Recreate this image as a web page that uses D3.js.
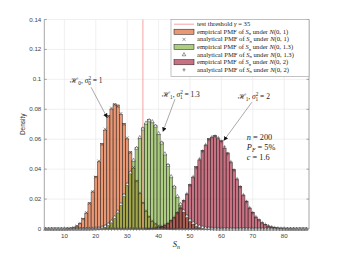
<!DOCTYPE html>
<html><head><meta charset="utf-8">
<script src="https://cdn.jsdelivr.net/npm/d3@7"></script>
<style>body{margin:0;background:#fff}svg{display:block}</style>
</head><body><svg id="c" width="342" height="257"></svg>
<script>
// ---- data ----
const xTicks = [10, 20, 30, 40, 50, 60, 70, 80];
const yTicks = [0, 0.02, 0.04, 0.06, 0.08, 0.1, 0.12, 0.14];
const yTickLabels = ["0", "0.02", "0.04", "0.06", "0.08", "0.1", "0.12", "0.14"];
const threshold = 35;

// analytical PMFs, support starts at S_n = 4 (one value per integer up to 87)
const pmfStart = 4;
const analyticalH0 = [0,0,0,0,0,0.00002,0.00007,0.00018,0.00044,0.00098,0.00199,0.00378,0.00667,0.0110,0.0171,0.0251,0.0347,0.0454,0.0565,0.0667,0.0752,0.0808,0.0831,0.0818,0.0772,0.0699,0.0609,0.0510,0.0411,0.0320,0.0240,0.0174,0.0122,0.00825,0.0054,0.00343,0.00211,0.00126,0.00073,0.00041,0.00022,0.00011,0.00005,0.00002,
 0,0,0,0,0,0,0,0,0,0,0,0,0,0,0,0,0,0,0,0,0,0,0,0,0,0,0,0,0,0,0,0,0,0,0,0,0,0,0,0];
const analyticalH1a = [0,0,0,0,0,0,0,0,0,0,0,0,0,0.00002,0.00006,0.00013,0.00027,0.00054,0.00102,0.00182,0.00309,0.0050,0.0078,0.0116,0.0166,0.0227,0.0298,0.0377,0.0460,0.0540,0.0612,0.0670,0.0709,0.0725,0.0718,0.0688,0.0639,0.0576,0.0503,0.0426,0.0351,0.0281,0.0218,0.0165,0.0121,0.00869,0.00606,0.00411,0.00272,0.00175,0.0011,0.00067,0.0004,0.00023,0.00013,0.00007,0.00004,0.00002,
 0,0,0,0,0,0,0,0,0,0,0,0,0,0,0,0,0,0,0,0,0,0,0,0,0,0];
const analyticalH1b = [0,0,0,0,0,0,0,0,0,0,0,0,0,0,0,0,0,0,0,0,0,0,0,0,0,0,0,0,0,0,
 0.00003,0.00006,0.00011,0.0002,0.00036,0.00062,0.00102,0.00162,0.00251,0.00377,0.00549,0.00778,0.0107,0.0143,0.0187,0.0237,0.0292,0.0350,0.0410,0.0468,0.0520,0.0564,0.0597,0.0616,0.0620,0.0610,0.0585,0.0549,0.0503,0.0450,0.0393,0.0336,0.0281,0.0229,0.0183,0.0143,0.0109,0.00817,0.00598,0.00428,0.0030,0.00206,0.00138,0.00091,0.00059,0.00037,0.00023,0.00014,0.00008,0.00005,0.00003,0.00002,0.00001,0];

// empirical PMFs (histograms)
const empiricalH0Start = 11;
const empiricalH0 = [0.0002,0.0005,0.0009,0.0021,0.0037,0.0069,0.0107,0.0175,0.0248,0.0352,0.0449,0.0571,0.0661,0.0758,0.0802,0.0836,0.0829,0.0765,0.0705,0.0602,0.0516,0.0405,0.0324,0.0236,0.0177,0.0119,0.0085,0.0052,0.0035,0.0020,0.0013,0.0007,0.0004,0.0002,0.0001];
const empiricalH1aStart = 19;
const empiricalH1a = [0.0001,0.0003,0.0006,0.0010,0.0019,0.0030,0.0052,0.0076,0.0119,0.0163,0.0231,0.0294,0.0381,0.0456,0.0545,0.0607,0.0676,0.0703,0.0731,0.0712,0.0694,0.0633,0.0581,0.0498,0.0431,0.0347,0.0285,0.0214,0.0168,0.0118,0.0088,0.0059,0.0042,0.0027,0.0018,0.0011,0.0007,0.0004,0.0002,0.0001,0.0001];
const empiricalH1bStart = 36;
const empiricalH1b = [0.0001,0.0002,0.0004,0.0006,0.0011,0.0015,0.0026,0.0036,0.0057,0.0075,0.0110,0.0139,0.0192,0.0232,0.0298,0.0344,0.0417,0.0462,0.0526,0.0558,0.0604,0.0611,0.0626,0.0603,0.0590,0.0541,0.0509,0.0444,0.0398,0.0330,0.0286,0.0224,0.0187,0.0139,0.0112,0.0079,0.0062,0.0041,0.0031,0.0020,0.0014,0.0009,0.0006,0.0004,0.0002,0.0001,0.0001,0.00005];

const seriesColors = ["#D95319", "#77AC30", "#A2142F"];

// ---- layout ----
const svg = d3.select("#c");
const M = {l: 44.3, r: 309, t: 19.5, b: 229};
const x = d3.scaleLinear().domain([3.6, 87.9]).range([M.l, M.r]);
const y = d3.scaleLinear().domain([0, 0.14]).range([M.b, M.t]);
const SERIF = "'Liberation Serif','DejaVu Serif',serif";
const SANS = "'Liberation Sans',Arial,sans-serif";

// grid
const g = svg.append("g");
g.selectAll(".gx").data(xTicks).join("line")
  .attr("x1", d => x(d)).attr("x2", d => x(d)).attr("y1", M.t).attr("y2", M.b)
  .attr("stroke", "#e6e6e6").attr("stroke-width", 0.6);
g.selectAll(".gy").data(yTicks.slice(1)).join("line")
  .attr("x1", M.l).attr("x2", M.r).attr("y1", d => y(d)).attr("y2", d => y(d))
  .attr("stroke", "#e6e6e6").attr("stroke-width", 0.6);

// histograms
function bars(start, vals, color) {
  const data = vals.map((v, i) => ({k: start + i, v}));
  svg.append("g").selectAll("rect").data(data).join("rect")
    .attr("x", d => x(d.k - 0.5)).attr("width", d => x(d.k + 0.5) - x(d.k - 0.5))
    .attr("y", d => y(d.v)).attr("height", d => y(0) - y(d.v))
    .attr("fill", color).attr("fill-opacity", 0.6)
    .attr("stroke", "#1a1a1a").attr("stroke-width", 0.5).attr("stroke-opacity", 0.85);
}
bars(empiricalH0Start, empiricalH0, seriesColors[0]);
bars(empiricalH1aStart, empiricalH1a, seriesColors[1]);
bars(empiricalH1bStart, empiricalH1b, seriesColors[2]);

// threshold line
svg.append("line").attr("x1", x(threshold)).attr("x2", x(threshold))
  .attr("y1", y(0)).attr("y2", y(0.14)).attr("stroke", "#f08a8a").attr("stroke-width", 0.8);

// markers
function markerPath(type, cx, cy) {
  const s = 1.5;
  if (type === "x") return `M${cx-s},${cy-s}L${cx+s},${cy+s}M${cx-s},${cy+s}L${cx+s},${cy-s}`;
  if (type === "+") return `M${cx-s},${cy}L${cx+s},${cy}M${cx},${cy-s-0.3}L${cx},${cy+s+0.3}`;
  if (type === "tri") return `M${cx},${cy-2}L${cx+1.8},${cy+1.2}L${cx-1.8},${cy+1.2}Z`;
}
const markerTypes = ["x", "tri", "+"];
function markers(vals, type) {
  const data = vals.map((v, i) => ({k: pmfStart + i, v}));
  svg.append("g").selectAll("path").data(data).join("path")
    .attr("d", d => markerPath(type, x(d.k), y(d.v)))
    .attr("fill", type === "tri" ? "#fff" : "none")
    .attr("stroke", "#333").attr("stroke-width", 0.5);
}
markers(analyticalH0, "x");
markers(analyticalH1a, "tri");
markers(analyticalH1b, "+");

// axes frame
const ax = svg.append("g").attr("stroke", "#808080").attr("stroke-width", 0.7);
ax.append("line").attr("x1", M.l).attr("x2", M.l).attr("y1", M.t).attr("y2", M.b);
ax.append("line").attr("x1", M.r).attr("x2", M.r).attr("y1", M.t).attr("y2", M.b);
ax.append("line").attr("x1", M.l).attr("x2", M.r).attr("y1", M.b).attr("y2", M.b);
xTicks.forEach(t => {
  ax.append("line").attr("x1", x(t)).attr("x2", x(t)).attr("y1", M.b).attr("y2", M.b - 2.5);
});
yTicks.forEach(t => {
  ax.append("line").attr("x1", M.l).attr("x2", M.l + 2.5).attr("y1", y(t)).attr("y2", y(t));
  ax.append("line").attr("x1", M.r).attr("x2", M.r - 2.5).attr("y1", y(t)).attr("y2", y(t));
});
svg.append("g").selectAll("text").data(xTicks).join("text")
  .attr("x", d => x(d)).attr("y", M.b + 9).attr("text-anchor", "middle")
  .attr("font-family", SANS).attr("font-size", 6.2).attr("fill", "#444").text(d => d);
svg.append("g").selectAll("text").data(yTicks).join("text")
  .attr("x", M.l - 3).attr("y", d => y(d) + 2).attr("text-anchor", "end")
  .attr("font-family", SANS).attr("font-size", 6.2).attr("fill", "#444").text((d, i) => yTickLabels[i]);
svg.append("text").attr("transform", `translate(25,${(M.t + M.b) / 2}) rotate(-90)`)
  .attr("text-anchor", "middle").attr("font-family", SANS).attr("font-size", 6.5)
  .attr("fill", "#333").text("Density");

// rich text helper
function rich(sel, parts, fs) {
  parts.forEach(p => {
    const ts = sel.append("tspan").text(p.t);
    if (p.it) ts.attr("font-style", "italic");
    if (p.sub) ts.attr("font-size", fs * 0.7).attr("dy", fs * 0.25);
    if (p.sup) ts.attr("font-size", fs * 0.7).attr("dy", -fs * 0.4);
    if (p.dy) ts.attr("dy", p.dy);
    if (p.dx) ts.attr("dx", p.dx);
  });
}
// x label
const xl = svg.append("text").attr("x", (M.l + M.r) / 2 - 4).attr("y", 247)
  .attr("font-family", SERIF).attr("font-size", 8.5).attr("fill", "#222");
rich(xl, [{t: "S", it: true}, {t: "n", it: true, sub: true}], 8.5);

// legend
const L = {x: 171, y: 19.5, w: 138, h: 57};
svg.append("rect").attr("x", L.x).attr("y", L.y).attr("width", L.w).attr("height", L.h)
  .attr("fill", "#fff").attr("stroke", "#999").attr("stroke-width", 0.6);
const legRows = [
  {kind: "line", label: [{t: "test threshold "}, {t: "γ", it: true}, {t: " = 35"}]},
  {kind: "patch", c: 0, label: "1"},
  {kind: "mark", c: 0, label: "1"},
  {kind: "patch", c: 1, label: "1.3"},
  {kind: "mark", c: 1, label: "1.3"},
  {kind: "patch", c: 2, label: "2"},
  {kind: "mark", c: 2, label: "2"}
];
const LFS = 6.6;
legRows.forEach((r, i) => {
  const cy = 24.2 + i * 7.6;
  if (r.kind === "line") {
    svg.append("line").attr("x1", 174).attr("x2", 194).attr("y1", cy).attr("y2", cy)
      .attr("stroke", "#f08a8a").attr("stroke-width", 0.8);
  } else if (r.kind === "patch") {
    svg.append("rect").attr("x", 174).attr("y", cy - 2.6).attr("width", 20).attr("height", 5.2)
      .attr("fill", seriesColors[r.c]).attr("fill-opacity", 0.6)
      .attr("stroke", "#1a1a1a").attr("stroke-width", 0.5);
  } else {
    const t = markerTypes[r.c];
    svg.append("path").attr("d", markerPath(t, 184, cy))
      .attr("fill", t === "tri" ? "#fff" : "none").attr("stroke", "#333").attr("stroke-width", 0.5);
  }
  const tx = svg.append("text").attr("x", 197).attr("y", cy + 2)
    .attr("font-family", SERIF).attr("font-size", LFS).attr("fill", "#222");
  const parts = Array.isArray(r.label) ? r.label : [
    {t: r.kind === "patch" ? "empirical PMF of " : "analytical PMF of "},
    {t: "S", it: true}, {t: "n", it: true, sub: true},
    {t: " under ", dy: -LFS * 0.25}, {t: "N", it: true}, {t: "(0, " + r.label + ")"}
  ];
  rich(tx, parts, LFS);
});

// annotations
const defs = svg.append("defs");
defs.append("marker").attr("id", "ah").attr("viewBox", "0 0 10 10").attr("refX", 9).attr("refY", 5)
  .attr("markerWidth", 4.5).attr("markerHeight", 4.5).attr("orient", "auto")
  .attr("markerUnits", "userSpaceOnUse")
  .append("path").attr("d", "M0,0L10,5L0,10Z").attr("fill", "#111");
function arrow(x1, y1, x2, y2) {
  svg.append("line").attr("x1", x(x1)).attr("y1", y(y1)).attr("x2", x(x2)).attr("y2", y(y2))
    .attr("stroke", "#555").attr("stroke-width", 0.5).attr("marker-end", "url(#ah)");
}
arrow(18.5, 0.0947, 23.6, 0.0745);
arrow(45.2, 0.0867, 41.4, 0.0652);
arrow(69.7, 0.0847, 60.8, 0.0592);
const AFS = 7.5;
function hyp(xv, yv, idx, val) {
  const t = svg.append("text").attr("x", x(xv)).attr("y", y(yv))
    .attr("font-family", SERIF).attr("font-size", AFS).attr("fill", "#222");
  rich(t, [{t: "ℋ", it: false}, {t: idx, sub: true}, {t: ", ", dy: -AFS * 0.25}, {t: "σ", it: true},
    {t: "2", sup: true}, {t: idx, sub: true, dx: -AFS * 0.38, dy: AFS * 0.65}, {t: " = " + val, dy: -AFS * 0.25}], AFS);
}
hyp(11.9, 0.0977, "0", "1");
hyp(41.1, 0.0883, "1", "1.3");
hyp(65.2, 0.087, "1", "2");
const PFS = 8.3;
const p1 = svg.append("text").attr("x", x(68.1)).attr("y", y(0.0593)).attr("font-family", SERIF).attr("font-size", PFS).attr("fill", "#222");
rich(p1, [{t: "n", it: true}, {t: " = 200"}], PFS);
const p2 = svg.append("text").attr("x", x(68.1)).attr("y", y(0.0527)).attr("font-family", SERIF).attr("font-size", PFS).attr("fill", "#222");
rich(p2, [{t: "P", it: true}, {t: "F", it: true, sub: true}, {t: " = 5%", dy: -PFS * 0.25}], PFS);
const p3 = svg.append("text").attr("x", x(68.1)).attr("y", y(0.046)).attr("font-family", SERIF).attr("font-size", PFS).attr("fill", "#222");
rich(p3, [{t: "c", it: true}, {t: " = 1.6"}], PFS);
</script></body></html>
